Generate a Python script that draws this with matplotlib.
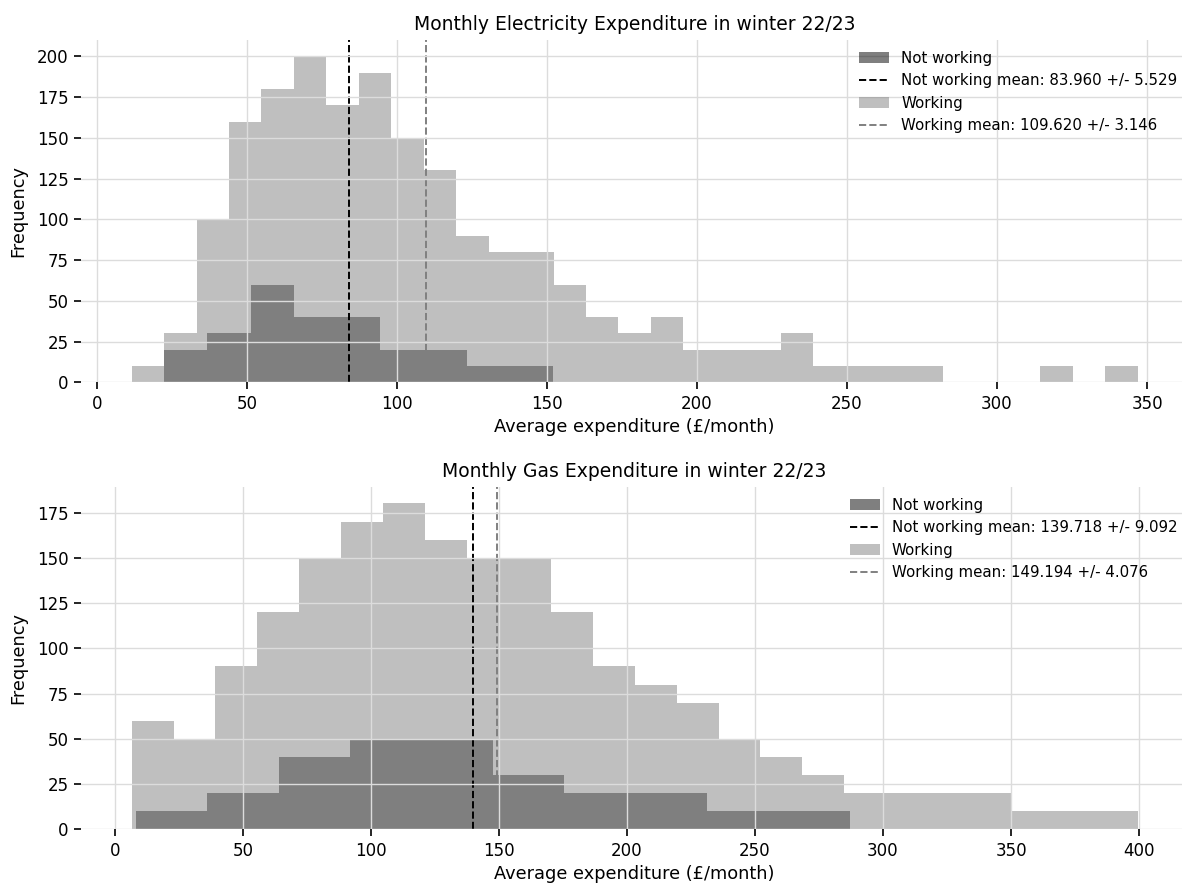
import numpy as np
import matplotlib.pyplot as plt

# Electricity, winter 22/23: histogram counts and the range they span
elec_not_working_counts = [20, 30, 60, 40, 40, 20, 20, 10, 10]
elec_not_working_range = (22.4, 152.1)
elec_working_counts = [10, 30, 100, 160, 180, 200, 170, 190, 150, 130, 90, 80, 80,
                       60, 40, 30, 40, 20, 20, 20, 30, 10, 10, 10, 10, 0, 0, 0,
                       10, 0, 10]
elec_working_range = (11.6, 346.9)
elec_means = {'Not working': (83.960, 5.529), 'Working': (109.620, 3.146)}

# Gas, winter 22/23
gas_not_working_counts = [10, 20, 40, 50, 50, 30, 20, 20, 10, 10]
gas_not_working_range = (8.2, 287.1)
gas_working_counts = [60, 50, 90, 120, 150, 170, 180, 160, 150, 150, 120, 90, 80,
                      70, 50, 40, 30, 20, 20, 20, 20, 10, 10, 10]
gas_working_range = (6.5, 399.5)
gas_means = {'Not working': (139.718, 9.092), 'Working': (149.194, 4.076)}


def plot_expenditure(ax, title, nw_counts, nw_range, w_counts, w_range, means, xticks):
    nw_edges = np.linspace(nw_range[0], nw_range[1], len(nw_counts) + 1)
    w_edges = np.linspace(w_range[0], w_range[1], len(w_counts) + 1)

    ax.hist(nw_edges[:-1], bins=nw_edges, weights=nw_counts, histtype='stepfilled',
            color='black', alpha=0.5, label='Not working')
    m, s = means['Not working']
    ax.axvline(m, color='black', linestyle='--', linewidth=1.4,
               label=f'Not working mean: {m:.3f} +/- {s:.3f}')
    ax.hist(w_edges[:-1], bins=w_edges, weights=w_counts, histtype='stepfilled',
            color='gray', alpha=0.5, label='Working')
    m, s = means['Working']
    ax.axvline(m, color='gray', linestyle='--', linewidth=1.4,
               label=f'Working mean: {m:.3f} +/- {s:.3f}')

    ax.set_title(title, fontsize=13.5, pad=7)
    ax.set_xlabel('Average expenditure (£/month)', fontsize=12.8, labelpad=4)
    ax.set_ylabel('Frequency', fontsize=12.8, labelpad=7)
    ax.set_xticks(xticks)
    ax.tick_params(labelsize=12, length=5, width=1.2, color='black', pad=4)
    ax.grid(True, color='#dcdcdc', linewidth=1)
    ax.set_axisbelow(False)
    for spine in ax.spines.values():
        spine.set_visible(False)
    ax.legend(loc='upper right', frameon=False, fontsize=10.8, handlelength=2.0,
              labelspacing=0.5, borderaxespad=0.3, handletextpad=0.8)


fig = plt.figure(figsize=(11.82, 8.85), dpi=100)
ax1 = fig.add_axes([0.0688, 0.568, 0.9363, 0.3868])
ax2 = fig.add_axes([0.0688, 0.0629, 0.9363, 0.3866])

plot_expenditure(ax1, 'Monthly Electricity Expenditure in winter 22/23',
                 elec_not_working_counts, elec_not_working_range,
                 elec_working_counts, elec_working_range, elec_means,
                 [0, 50, 100, 150, 200, 250, 300, 350])
ax1.set_yticks([0, 25, 50, 75, 100, 125, 150, 175, 200])

plot_expenditure(ax2, 'Monthly Gas Expenditure in winter 22/23',
                 gas_not_working_counts, gas_not_working_range,
                 gas_working_counts, gas_working_range, gas_means,
                 [0, 50, 100, 150, 200, 250, 300, 350, 400])
ax2.set_yticks([0, 25, 50, 75, 100, 125, 150, 175])

fig.savefig('out.png', dpi=100)
